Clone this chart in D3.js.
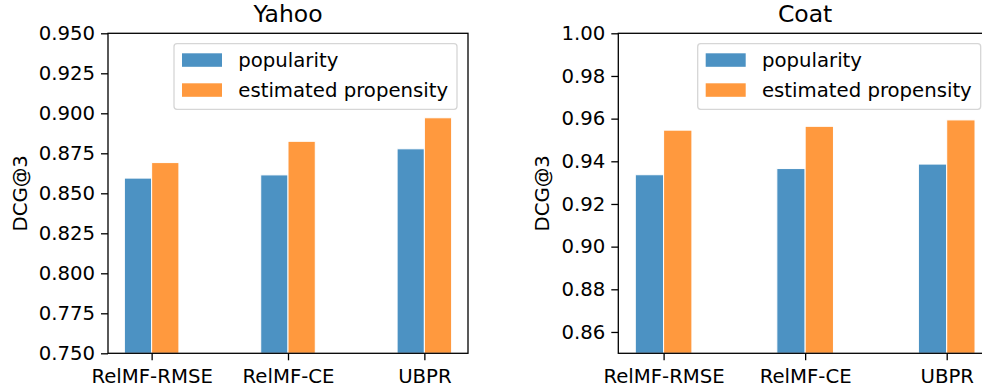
<!DOCTYPE html>
<html><head><meta charset="utf-8">
<script src="https://cdn.jsdelivr.net/npm/d3@7"></script>
<style>body{margin:0;background:#fff}svg{display:block;font-family:"DejaVu Sans",sans-serif}</style>
</head><body><svg id="c" width="982" height="391"></svg>
<script>
const categories = ["RelMF-RMSE", "RelMF-CE", "UBPR"];
const seriesNames = ["popularity", "estimated propensity"];
const yahooPopularity = [0.8595, 0.8615, 0.8778];
const yahooEstimated = [0.8692, 0.8825, 0.8972];
const coatPopularity = [0.9337, 0.9366, 0.9387];
const coatEstimated = [0.9546, 0.9564, 0.9594];
const yahooTicks = [0.750, 0.775, 0.800, 0.825, 0.850, 0.875, 0.900, 0.925, 0.950];
const coatTicks = [0.86, 0.88, 0.90, 0.92, 0.94, 0.96, 0.98, 1.00];
const colors = ["rgba(31,119,180,0.8)", "rgba(255,127,14,0.8)"];

const svg = d3.select("#c");
const FS = 19.7;

function panel(cfg) {
  const g = svg.append("g");
  const x = d3.scaleLinear().domain([-0.32, 2.32]).range([cfg.left, cfg.right]);
  const y = d3.scaleLinear().domain(cfg.ydom).range([cfg.bottom, cfg.top]);
  const series = [cfg.pop, cfg.est];
  series.forEach((vals, s) => {
    g.selectAll(null).data(vals).enter().append("rect")
      .attr("x", (d, i) => x(i - 0.2 + s * 0.2))
      .attr("width", (d, i) => x(0.2) - x(0))
      .attr("y", d => y(d))
      .attr("height", d => y(cfg.ydom[0]) - y(d))
      .attr("fill", colors[s])
      .attr("stroke", "#fff").attr("stroke-width", 1);
  });
  const ya = d3.axisLeft(y).tickValues(cfg.ticks).tickFormat(d3.format(cfg.fmt)).tickSize(7).tickPadding(6);
  const yg = g.append("g").attr("transform", `translate(${cfg.left},0)`).call(ya);
  const xa = d3.axisBottom(x).tickValues([0, 1, 2]).tickFormat(i => categories[i]).tickSize(7).tickPadding(5);
  const xg = g.append("g").attr("transform", `translate(0,${cfg.bottom})`).call(xa);
  [yg, xg].forEach(a => {
    a.select(".domain").remove();
    a.selectAll("line").attr("stroke", "#000").attr("stroke-width", 1.3);
    a.selectAll("text").attr("font-size", FS).attr("font-family", "DejaVu Sans").attr("fill", "#000");
  });
  xg.selectAll("text").attr("dy", "0.92em");
  g.append("rect").attr("x", cfg.left).attr("y", cfg.top)
    .attr("width", cfg.right - cfg.left).attr("height", cfg.bottom - cfg.top)
    .attr("fill", "none").attr("stroke", "#000").attr("stroke-width", 1.3);
  g.append("text").attr("x", (cfg.left + cfg.right) / 2).attr("y", 21.5)
    .attr("text-anchor", "middle").attr("font-size", 23.5).text(cfg.title);
  g.append("text").attr("transform", `translate(${cfg.ylabX},${(cfg.top + cfg.bottom) / 2}) rotate(-90)`)
    .attr("text-anchor", "middle").attr("font-size", FS).text("DCG@3");
  const lg = g.append("g");
  lg.append("rect").attr("x", cfg.legX).attr("y", 43.7).attr("width", cfg.legW).attr("height", 65.6)
    .attr("rx", 3).attr("fill", "rgba(255,255,255,0.8)").attr("stroke", "#d6d6d6").attr("stroke-width", 1.3);
  seriesNames.forEach((n, s) => {
    lg.append("rect").attr("x", cfg.legX + 8).attr("y", 53.3 + s * 30).attr("width", 40).attr("height", 13.5)
      .attr("fill", colors[s]);
    lg.append("text").attr("x", cfg.legX + 64.3).attr("y", 66.8 + s * 30).attr("font-size", FS).text(n);
  });
}

panel({title: "Yahoo", left: 108, right: 468, top: 33.3, bottom: 353.3, ydom: [0.75, 0.95],
  ticks: yahooTicks, fmt: ".3f", pop: yahooPopularity, est: yahooEstimated, ylabX: 26.5, legX: 174, legW: 283});
panel({title: "Coat", left: 618.3, right: 992, top: 33.3, bottom: 353.3, ydom: [0.85, 1.00],
  ticks: coatTicks, fmt: ".2f", pop: coatPopularity, est: coatEstimated, ylabX: 548.5, legX: 697.7, legW: 283});
</script></body></html>
